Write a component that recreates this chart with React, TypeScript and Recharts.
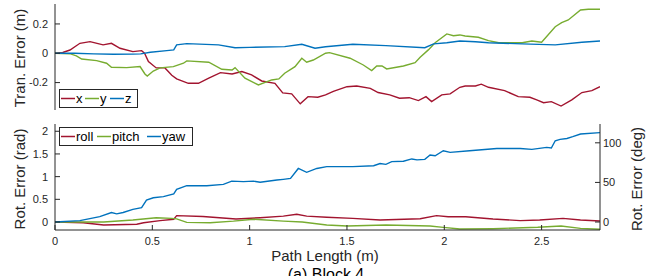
import React from 'react';
import { LineChart, Line, XAxis, YAxis } from 'recharts';

// ---- Translation error (m) ----
const transXPath = [0, 0.04, 0.077, 0.128, 0.18, 0.247, 0.29, 0.334, 0.4, 0.445, 0.46, 0.48, 0.52, 0.565, 0.6, 0.625, 0.685, 0.737, 0.79, 0.85, 0.91, 0.96, 1.01, 1.062, 1.13, 1.17, 1.216, 1.26, 1.3, 1.35, 1.39, 1.43, 1.5, 1.55, 1.62, 1.66, 1.72, 1.77, 1.82, 1.867, 1.906, 1.935, 1.987, 2.03, 2.08, 2.107, 2.16, 2.19, 2.227, 2.31, 2.38, 2.44, 2.475, 2.51, 2.55, 2.6, 2.655, 2.707, 2.758, 2.8];
const transXErr = [0, 0.005, 0.022, 0.068, 0.079, 0.057, 0.068, 0.034, 0.011, 0.018, 0, -0.057, -0.1, -0.1, -0.15, -0.175, -0.205, -0.205, -0.17, -0.132, -0.141, -0.125, -0.148, -0.189, -0.205, -0.27, -0.277, -0.345, -0.296, -0.3, -0.284, -0.26, -0.228, -0.223, -0.239, -0.268, -0.284, -0.307, -0.303, -0.323, -0.296, -0.33, -0.284, -0.277, -0.232, -0.223, -0.223, -0.211, -0.232, -0.255, -0.296, -0.3, -0.318, -0.337, -0.33, -0.36, -0.318, -0.268, -0.255, -0.228];

const transYPath = [0, 0.08, 0.11, 0.137, 0.214, 0.265, 0.29, 0.368, 0.437, 0.462, 0.474, 0.505, 0.54, 0.608, 0.66, 0.677, 0.79, 0.857, 0.91, 0.925, 0.976, 1.045, 1.113, 1.15, 1.18, 1.233, 1.268, 1.293, 1.327, 1.39, 1.41, 1.516, 1.584, 1.627, 1.653, 1.68, 1.704, 1.79, 1.85, 1.876, 1.918, 1.953, 2.013, 2.047, 2.08, 2.107, 2.175, 2.227, 2.28, 2.4, 2.45, 2.5, 2.57, 2.603, 2.637, 2.7, 2.74, 2.8];
const transYErr = [0, -0.004, -0.018, -0.039, -0.05, -0.068, -0.095, -0.098, -0.091, -0.141, -0.155, -0.121, -0.1, -0.091, -0.068, -0.052, -0.061, -0.109, -0.114, -0.098, -0.17, -0.216, -0.182, -0.175, -0.136, -0.091, -0.034, -0.061, -0.046, 0, 0.004, -0.034, -0.08, -0.118, -0.087, -0.087, -0.107, -0.087, -0.064, -0.027, 0.023, 0.072, 0.132, 0.12, 0.125, 0.118, 0.109, 0.086, 0.072, 0.072, 0.084, 0.075, 0.181, 0.209, 0.227, 0.295, 0.3, 0.3];

const transZPath = [0, 0.1, 0.2, 0.3, 0.4, 0.44, 0.49, 0.574, 0.61, 0.625, 0.677, 0.84, 0.925, 1.0, 1.18, 1.268, 1.336, 1.39, 1.53, 1.7, 1.9, 1.945, 2.013, 2.08, 2.16, 2.227, 2.4, 2.57, 2.707, 2.8];
const transZErr = [0, 0, -0.004, -0.007, -0.006, -0.004, 0.007, 0.018, 0.023, 0.057, 0.066, 0.057, 0.038, 0.04, 0.045, 0.061, 0.034, 0.044, 0.061, 0.052, 0.038, 0.064, 0.072, 0.084, 0.079, 0.072, 0.064, 0.057, 0.075, 0.084];

// ---- Rotation error (rad) ----
const rollPath = [0, 0.145, 0.25, 0.42, 0.455, 0.54, 0.61, 0.625, 0.76, 0.93, 1.054, 1.173, 1.242, 1.293, 1.396, 1.53, 1.67, 1.876, 1.96, 2.02, 2.11, 2.25, 2.39, 2.49, 2.61, 2.7, 2.8];
const rollErr = [0, -0.015, -0.066, -0.05, -0.015, 0.03, 0.06, 0.14, 0.12, 0.066, 0.095, 0.13, 0.17, 0.13, 0.105, 0.08, 0.044, 0.073, 0.14, 0.117, 0.117, 0.066, 0.03, 0.044, 0.08, 0.044, 0.022];

const pitchPath = [0, 0.25, 0.4, 0.52, 0.6, 0.625, 0.677, 0.797, 0.917, 1.02, 1.173, 1.27, 1.396, 1.5, 1.7, 1.927, 1.995, 2.08, 2.25, 2.48, 2.6, 2.7, 2.8];
const pitchErr = [0, 0, 0.044, 0.095, 0.08, 0.07, -0.007, -0.015, 0.02, 0.06, 0.02, 0, -0.066, -0.088, -0.066, -0.088, -0.117, -0.154, -0.147, -0.117, -0.088, -0.14, -0.16];

const yawPath = [0, 0.128, 0.23, 0.29, 0.317, 0.35, 0.4, 0.445, 0.47, 0.505, 0.557, 0.61, 0.625, 0.677, 0.78, 0.865, 0.908, 0.968, 1.02, 1.054, 1.14, 1.173, 1.21, 1.25, 1.293, 1.345, 1.396, 1.53, 1.637, 1.67, 1.7, 1.73, 1.79, 1.833, 1.86, 1.9, 1.927, 1.953, 1.995, 2.03, 2.13, 2.27, 2.39, 2.45, 2.526, 2.55, 2.57, 2.595, 2.63, 2.66, 2.7, 2.8];
const yawErr = [0, 0.03, 0.12, 0.21, 0.18, 0.21, 0.28, 0.315, 0.485, 0.535, 0.56, 0.62, 0.72, 0.8, 0.8, 0.83, 0.9, 0.89, 0.9, 0.875, 0.925, 0.94, 0.96, 1.18, 1.095, 1.18, 1.22, 1.22, 1.24, 1.29, 1.27, 1.33, 1.34, 1.39, 1.37, 1.38, 1.475, 1.46, 1.57, 1.535, 1.57, 1.62, 1.62, 1.6, 1.645, 1.63, 1.79, 1.82, 1.84, 1.88, 1.94, 1.97];

const pathTicks = [0, 0.5, 1, 1.5, 2, 2.5];
const tranTicks = [-0.2, 0, 0.2];
const radTicks = [0, 0.5, 1, 1.5, 2];
const degTicks = [0, 50, 100];

const RED = '#A2142F';
const GREEN = '#77AC30';
const BLUE = '#0072BD';
const AX = '#262626';
const FONT = '"Liberation Sans", Arial, Helvetica, sans-serif';

const zip = (p: number[], v: number[]) => p.map((x, i) => ({ p: x, v: v[i] }));

const RAD_MIN = -0.176;
const RAD_MAX = 2.16;
const DEG = 180 / Math.PI;

const tickStyle = { fill: AX, fontSize: 11, fontFamily: FONT };

const vLabel = (text: string, cx: number, cy: number) => () => (
  <text
    x={cx}
    y={cy}
    transform={`rotate(-90 ${cx} ${cy})`}
    textAnchor="middle"
    dominantBaseline="central"
    fill={AX}
    fontSize={15}
    fontFamily={FONT}
  >
    {text}
  </text>
);

const xLabel = () => (
  <g>
    <text x={325} y={146} textAnchor="middle" fill={AX} fontSize={15} fontFamily={FONT}>
      Path Length (m)
    </text>
    <text x={326} y={165} textAnchor="middle" fill="#000" fontSize={16} fontFamily={FONT}>
      (a) Block 4
    </text>
  </g>
);

const LegendBox = ({ left, top, width, items }: { left: number; top: number; width: number; items: { name: string; color: string; x: number }[] }) => (
  <svg style={{ position: 'absolute', left, top }} width={width} height={19}>
    <rect x={0.5} y={0.5} width={width - 1} height={18} fill="#fff" stroke={AX} strokeWidth={1} />
    {items.map((it) => (
      <g key={it.name}>
        <line x1={it.x} x2={it.x + 14} y1={9.5} y2={9.5} stroke={it.color} strokeWidth={1.5} />
        <text x={it.x + 15} y={14} fontSize={13} fontFamily={FONT} fill="#000">
          {it.name}
        </text>
      </g>
    ))}
  </svg>
);

export default function App() {
  return (
    <div style={{ position: 'absolute', left: 0, top: 0, width: 653, height: 276, background: '#fff', overflow: 'hidden' }}>
      <div style={{ position: 'absolute', left: 0, top: 0 }}>
        <LineChart width={653} height={115} margin={{ top: 4, right: 53, bottom: 5, left: 0 }}>
          <XAxis
            dataKey="p"
            type="number"
            domain={[0, 2.8]}
            ticks={pathTicks}
            allowDataOverflow
            height={0}
            tick={false}
            tickSize={-5}
            stroke={AX}
          />
          <YAxis
            type="number"
            domain={[-0.387, 0.336]}
            ticks={tranTicks}
            allowDataOverflow
            width={55}
            tickSize={-5}
            tickMargin={12}
            tick={tickStyle}
            stroke={AX}
            label={vLabel('Tran. Error (m)', 19, 58)}
          />
          <Line data={zip(transXPath, transXErr)} dataKey="v" stroke={RED} strokeWidth={1.4} dot={false} isAnimationActive={false} />
          <Line data={zip(transYPath, transYErr)} dataKey="v" stroke={GREEN} strokeWidth={1.4} dot={false} isAnimationActive={false} />
          <Line data={zip(transZPath, transZErr)} dataKey="v" stroke={BLUE} strokeWidth={1.4} dot={false} isAnimationActive={false} />
        </LineChart>
      </div>
      <div style={{ position: 'absolute', left: 0, top: 115 }}>
        <LineChart width={653} height={161} margin={{ top: 9, right: 0, bottom: 0, left: 0 }}>
          <XAxis
            dataKey="p"
            type="number"
            domain={[0, 2.8]}
            ticks={pathTicks}
            allowDataOverflow
            height={46}
            tickSize={-5}
            tickMargin={12}
            tick={tickStyle}
            stroke={AX}
            label={xLabel}
          />
          <YAxis
            yAxisId="rad"
            type="number"
            domain={[RAD_MIN, RAD_MAX]}
            ticks={radTicks}
            allowDataOverflow
            width={55}
            tickSize={-5}
            tickMargin={12}
            tick={tickStyle}
            stroke={AX}
            label={vLabel('Rot. Error (rad)', 19, 64)}
          />
          <YAxis
            yAxisId="deg"
            orientation="right"
            type="number"
            domain={[RAD_MIN * DEG, RAD_MAX * DEG]}
            ticks={degTicks}
            allowDataOverflow
            width={53}
            tickSize={-5}
            tickMargin={8}
            tick={tickStyle}
            stroke={AX}
            label={vLabel('Rot. Error (deg)', 636, 64)}
          />
          <Line yAxisId="rad" data={zip(rollPath, rollErr)} dataKey="v" stroke={RED} strokeWidth={1.4} dot={false} isAnimationActive={false} />
          <Line yAxisId="rad" data={zip(pitchPath, pitchErr)} dataKey="v" stroke={GREEN} strokeWidth={1.4} dot={false} isAnimationActive={false} />
          <Line yAxisId="rad" data={zip(yawPath, yawErr)} dataKey="v" stroke={BLUE} strokeWidth={1.4} dot={false} isAnimationActive={false} />
        </LineChart>
      </div>
      <LegendBox
        left={59}
        top={89}
        width={79}
        items={[
          { name: 'x', color: RED, x: 2 },
          { name: 'y', color: GREEN, x: 26 },
          { name: 'z', color: BLUE, x: 51 },
        ]}
      />
      <LegendBox
        left={59}
        top={127}
        width={134}
        items={[
          { name: 'roll', color: RED, x: 2 },
          { name: 'pitch', color: GREEN, x: 38 },
          { name: 'yaw', color: BLUE, x: 88 },
        ]}
      />
    </div>
  );
}
